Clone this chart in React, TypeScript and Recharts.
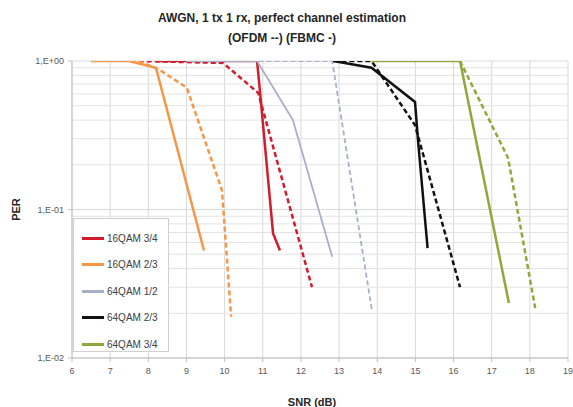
import {
  LineChart,
  Line,
  XAxis,
  YAxis,
  CartesianGrid,
  ReferenceLine,
  Legend,
} from "recharts";

// SNR (dB) / PER points; FBMC = solid, OFDM = dashed
const qam16r34Fbmc = [
  { snr: 8.2, per: 1 },
  { snr: 10.85, per: 1 },
  { snr: 10.93, per: 0.61 },
  { snr: 11.27, per: 0.069 },
  { snr: 11.45, per: 0.053 },
];
const qam16r34Ofdm = [
  { snr: 7.75, per: 1 },
  { snr: 9.96, per: 0.97 },
  { snr: 10.88, per: 0.61 },
  { snr: 12.29, per: 0.03 },
];
const qam16r23Fbmc = [
  { snr: 6.5, per: 1 },
  { snr: 7.5, per: 1 },
  { snr: 8.2, per: 0.9 },
  { snr: 9.46, per: 0.053 },
];
const qam16r23Ofdm = [
  { snr: 7.75, per: 1 },
  { snr: 8.3, per: 0.87 },
  { snr: 9.01, per: 0.66 },
  { snr: 9.93, per: 0.135 },
  { snr: 10.17, per: 0.019 },
];
const qam64r12Fbmc = [
  { snr: 9.0, per: 1 },
  { snr: 10.85, per: 1 },
  { snr: 11.79, per: 0.4 },
  { snr: 12.82, per: 0.048 },
];
const qam64r12Ofdm = [
  { snr: 9.0, per: 1 },
  { snr: 12.82, per: 1 },
  { snr: 13.86, per: 0.021 },
];
const qam64r23Fbmc = [
  { snr: 12.85, per: 1 },
  { snr: 13.85, per: 0.9 },
  { snr: 14.99, per: 0.53 },
  { snr: 15.07, per: 0.29 },
  { snr: 15.32, per: 0.055 },
];
const qam64r23Ofdm = [
  { snr: 12.85, per: 1 },
  { snr: 13.85, per: 1 },
  { snr: 14.99, per: 0.37 },
  { snr: 16.17, per: 0.03 },
];
const qam64r34Fbmc = [
  { snr: 13.85, per: 1 },
  { snr: 16.17, per: 1 },
  { snr: 17.45, per: 0.0235 },
];
const qam64r34Ofdm = [
  { snr: 16.17, per: 1 },
  { snr: 17.43, per: 0.222 },
  { snr: 18.14, per: 0.0217 },
];

const snrTicks = [6, 7, 8, 9, 10, 11, 12, 13, 14, 15, 16, 17, 18, 19];
const perTicks = [0.01, 0.1, 1];
const perTickLabels = ["1,E-02", "1,E-01", "1,E+00"];
const perMinorGrid = [
  0.02, 0.03, 0.04, 0.05, 0.06, 0.07, 0.08, 0.09,
  0.2, 0.3, 0.4, 0.5, 0.6, 0.7, 0.8, 0.9,
];

const series = [
  { name: "16QAM 3/4", color: "#d01c2c", fbmc: qam16r34Fbmc, ofdm: qam16r34Ofdm, width: 2.5 },
  { name: "16QAM 2/3", color: "#f79646", fbmc: qam16r23Fbmc, ofdm: qam16r23Ofdm, width: 2.5 },
  { name: "64QAM 1/2", color: "#a8afca", fbmc: qam64r12Fbmc, ofdm: qam64r12Ofdm, width: 1.8 },
  { name: "64QAM 2/3", color: "#111111", fbmc: qam64r23Fbmc, ofdm: qam64r23Ofdm, width: 2.5 },
  { name: "64QAM 3/4", color: "#8fa83c", fbmc: qam64r34Fbmc, ofdm: qam64r34Ofdm, width: 2.5 },
];

const font = "'Liberation Sans', Arial, sans-serif";

const LegendBox = () => (
  <div
    style={{
      border: "1px solid #d0d0d0",
      background: "#fff",
      padding: "6px 0 0 8px",
      boxSizing: "border-box",
      width: 96,
      height: 134,
    }}
  >
    {series.map((s) => (
      <div key={s.name} style={{ display: "flex", alignItems: "center", height: 26.5 }}>
        <div style={{ width: 22, height: 3, background: s.color, marginRight: 3 }} />
        <span style={{ fontSize: 10, color: "#404040", fontFamily: font }}>{s.name}</span>
      </div>
    ))}
  </div>
);

export default function App() {
  return (
    <div
      style={{
        position: "absolute",
        left: 0,
        top: 0,
        width: 573,
        height: 407,
        background: "#fff",
        fontFamily: font,
        overflow: "hidden",
      }}
    >
      <div
        style={{
          position: "absolute",
          left: 0,
          top: 8,
          width: 564,
          textAlign: "center",
          fontWeight: "bold",
          fontSize: 12,
          lineHeight: "20px",
          color: "#262626",
        }}
      >
        AWGN, 1 tx 1 rx, perfect channel estimation
        <br />
        (OFDM --) (FBMC -)
      </div>
      <LineChart
        width={573}
        height={407}
        margin={{ top: 61, right: 5, bottom: 0, left: 0 }}
        style={{ fontFamily: font }}
      >
        <CartesianGrid stroke="#d9d9d9" vertical horizontal />
        {perMinorGrid.map((v) => (
          <ReferenceLine key={v} y={v} stroke="#e3e3e3" />
        ))}
        <XAxis
          type="number"
          dataKey="snr"
          domain={[6, 19]}
          ticks={snrTicks}
          interval={0}
          height={49}
          tickSize={4}
          tickMargin={6}
          tick={{ fontSize: 9, fill: "#595959" }}
          axisLine={{ stroke: "#bfbfbf" }}
          tickLine={{ stroke: "#bfbfbf" }}
          label={{
            value: "SNR (dB)",
            position: "insideBottom",
            offset: 1,
            dx: -8,
            style: { fontWeight: "bold", fontSize: 11, fill: "#262626" },
          }}
        />
        <YAxis
          type="number"
          scale="log"
          domain={[0.01, 1]}
          allowDataOverflow
          ticks={perTicks}
          interval={0}
          width={72}
          tickSize={4}
          tickMargin={4}
          tickFormatter={(v: number) => perTickLabels[perTicks.indexOf(v)] ?? ""}
          tick={{ fontSize: 9, fill: "#595959" }}
          axisLine={{ stroke: "#bfbfbf" }}
          tickLine={{ stroke: "#bfbfbf" }}
          label={{
            value: "PER",
            angle: -90,
            position: "insideLeft",
            offset: 16,
            style: { textAnchor: "middle", fontWeight: "bold", fontSize: 11, fill: "#262626" },
          }}
        />
        <Legend
          layout="horizontal"
          verticalAlign="middle"
          align="center"
          content={LegendBox}
          wrapperStyle={{ left: 73, top: 218, width: 96, height: 134 }}
        />
        {series.map((s) => (
          <Line
            key={s.name + "-ofdm"}
            data={s.ofdm}
            dataKey="per"
            type="linear"
            stroke={s.color}
            strokeWidth={s.width}
            strokeDasharray="5 3"
            dot={false}
            legendType="none"
            isAnimationActive={false}
          />
        ))}
        {series.map((s) => (
          <Line
            key={s.name + "-fbmc"}
            data={s.fbmc}
            dataKey="per"
            name={s.name}
            type="linear"
            stroke={s.color}
            strokeWidth={s.width}
            dot={false}
            isAnimationActive={false}
          />
        ))}
      </LineChart>
    </div>
  );
}
